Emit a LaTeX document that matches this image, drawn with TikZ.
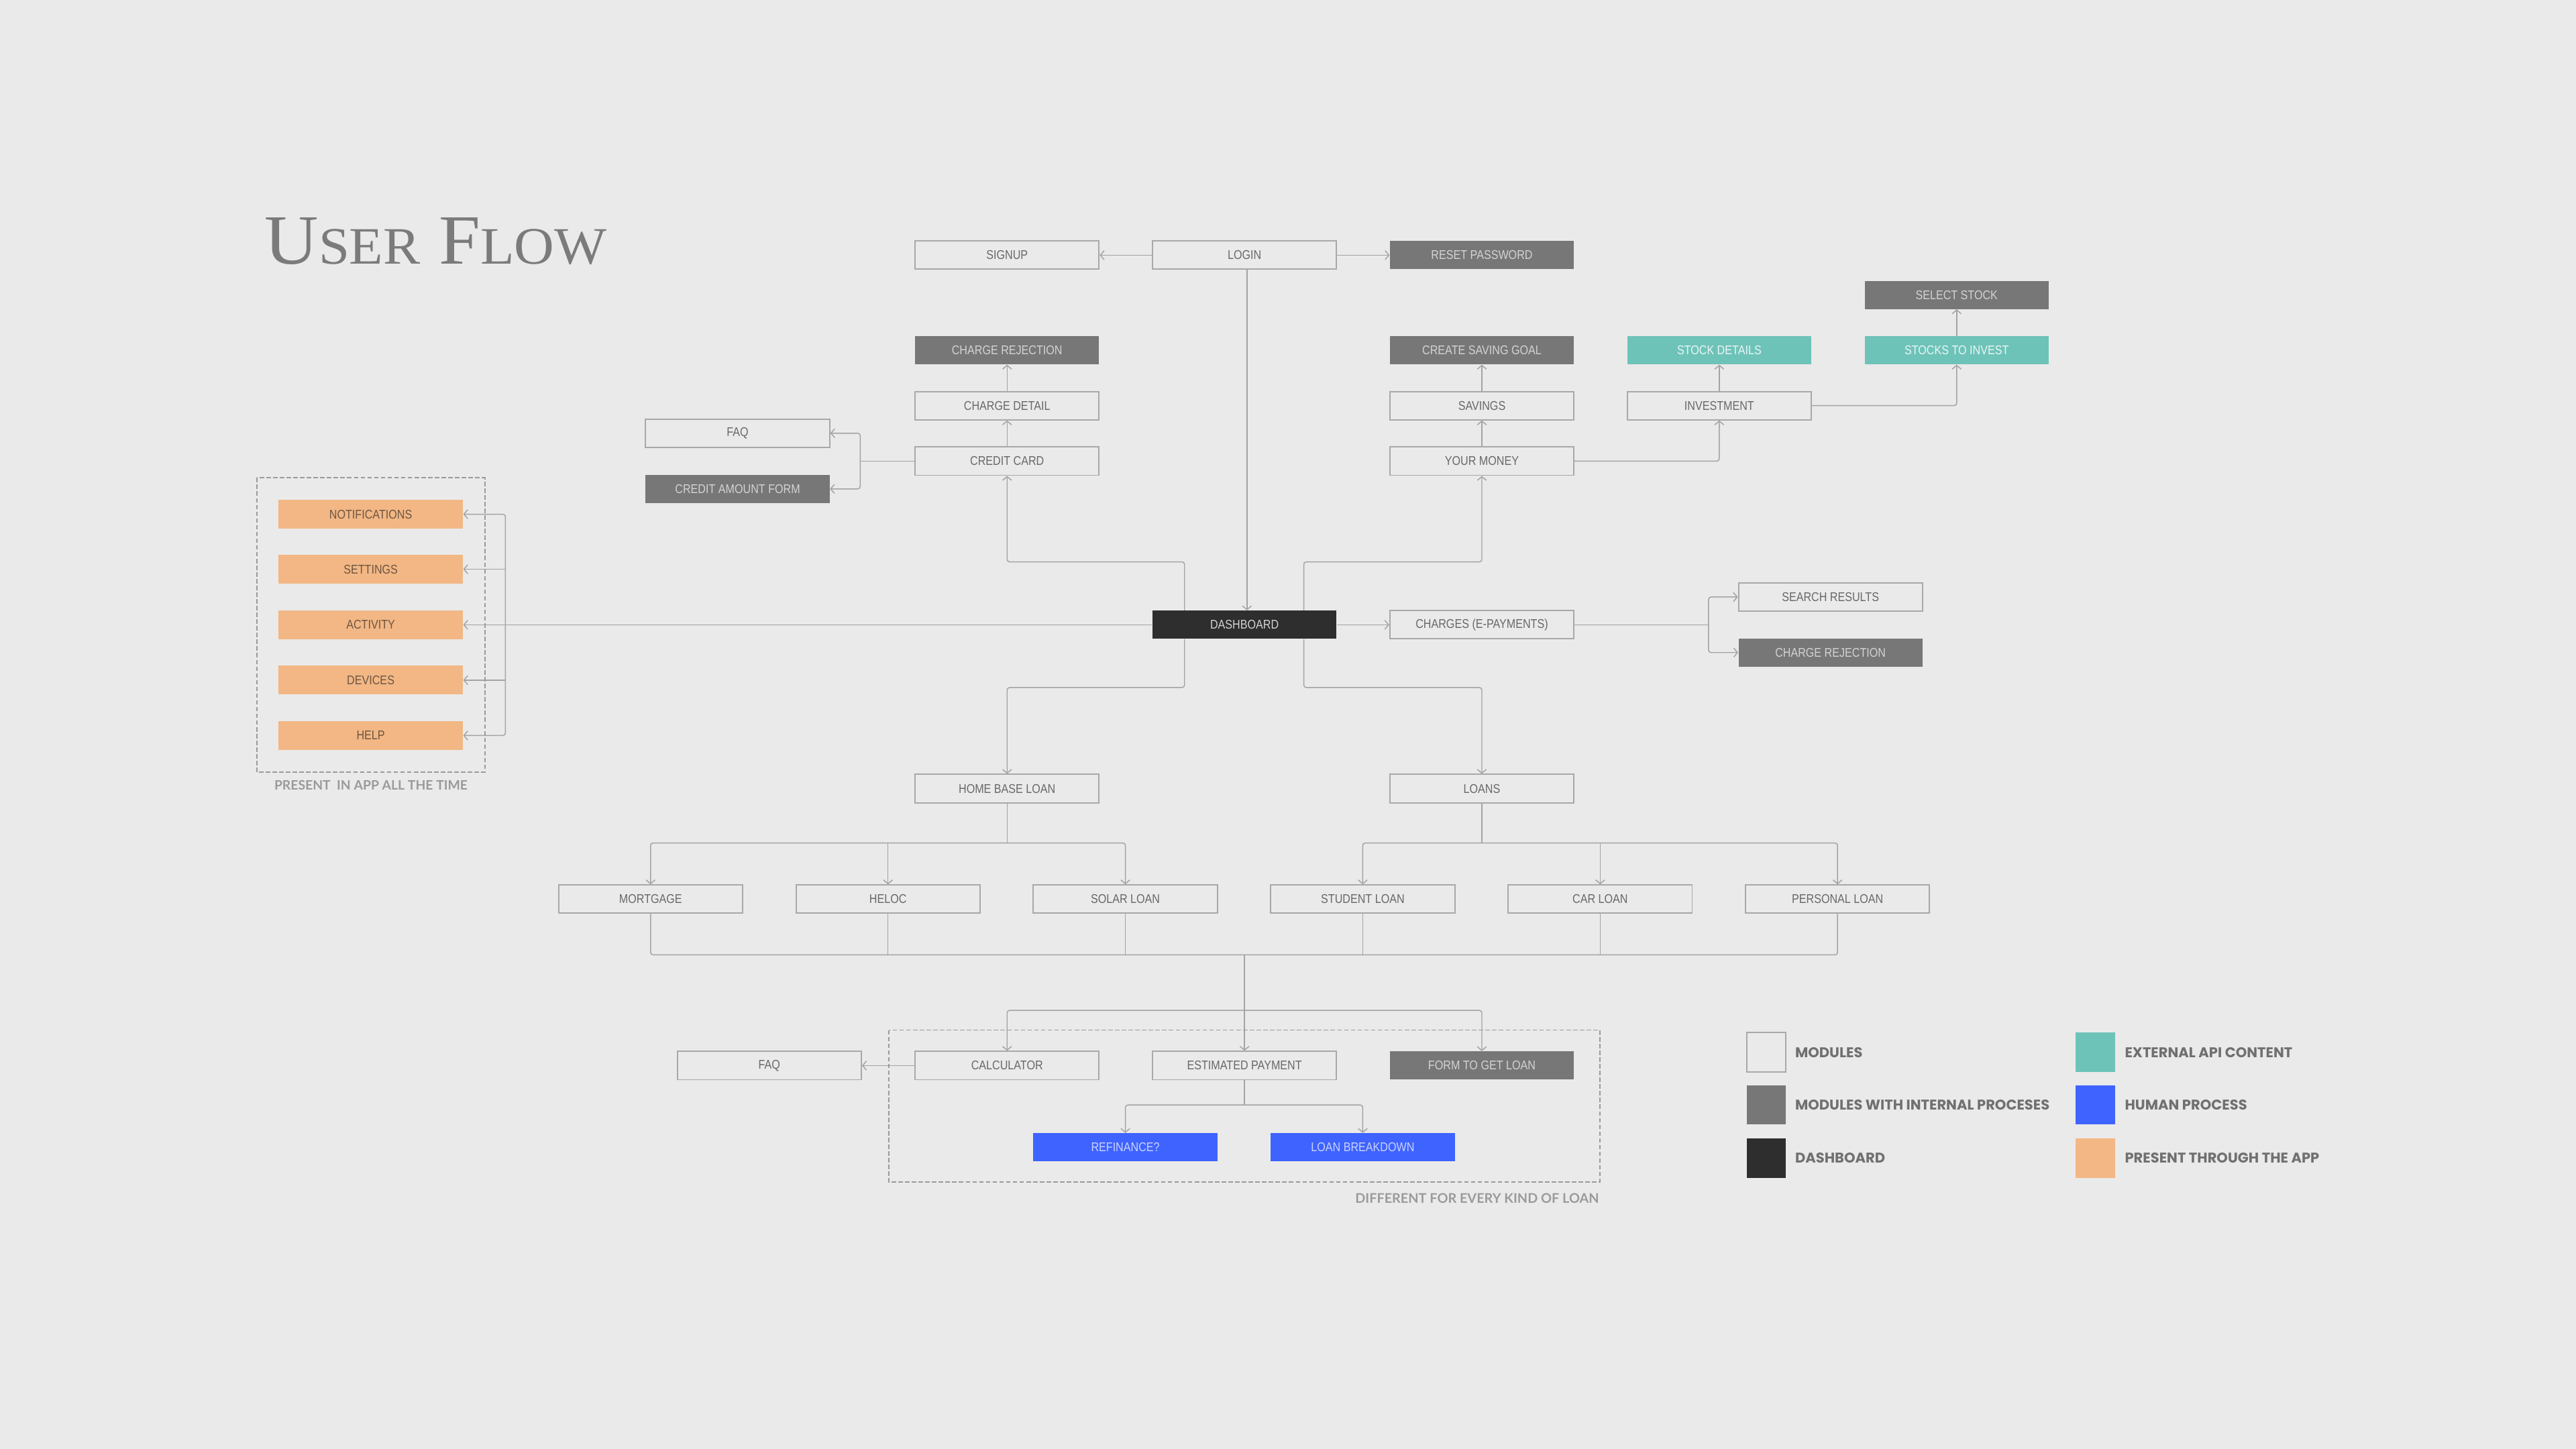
\documentclass[tikz,border=0pt]{standalone}
\usepackage{fontspec}
\setmainfont{Liberation Sans}
\newfontfamily\boxfont[FakeStretch=0.855]{Liberation Sans}
\newfontfamily\legfont{Poppins}
\newfontfamily\notefont{Lato}
\newfontfamily\titlefont{Liberation Serif}
\usetikzlibrary{arrows.meta,calc}
\definecolor{bg}{HTML}{EAEAEA}
\definecolor{lc}{HTML}{A3A3A3}
\definecolor{bc}{HTML}{A8A8A8}
\definecolor{tx}{HTML}{686868}
\definecolor{dg}{HTML}{777777}
\definecolor{dgt}{HTML}{D3D3D3}
\definecolor{dk}{HTML}{2E2E2E}
\definecolor{apiteal}{HTML}{6EC3B9}
\definecolor{apit}{HTML}{EAF6F4}
\definecolor{hblue}{HTML}{3F63FF}
\definecolor{hbluet}{HTML}{C9D3FF}
\definecolor{orng}{HTML}{F2B784}
\definecolor{orngt}{HTML}{6E5543}
\definecolor{ttl}{HTML}{7B7B7B}
\definecolor{notec}{HTML}{9A9A9A}
\definecolor{legt}{HTML}{707070}
\tikzset{
  box/.style={minimum width=112pt, minimum height=17.2pt, inner sep=0pt, font=\boxfont\fontsize{7.7}{8}\selectfont},
  mod/.style={box, draw=bc, line width=0.8pt, text=tx},
  imod/.style={box, fill=dg, text=dgt},
  dsh/.style={box, fill=dk, text=dgt},
  api/.style={box, fill=apiteal, text=apit},
  hum/.style={box, fill=hblue, text=hbluet},
  app/.style={box, fill=orng, text=orngt, minimum width=112.3pt, minimum height=17.5pt},
  conn/.style={draw=lc, line width=0.6pt, rounded corners=1.5pt},
  arr/.style={-{Straight Barb[length=2.3pt,width=5.5pt]}},
  dashbox/.style={draw=notec, line width=0.8pt, dash pattern=on 2.7pt off 1.4pt},
  notetxt/.style={inner sep=0pt, text=notec, font=\notefont\bfseries\fontsize{7.9}{9}\selectfont},
  legsq/.style={minimum width=23.8pt, minimum height=23.9pt, inner sep=0pt},
  legtxt/.style={anchor=west, inner sep=0pt, text=legt, font=\legfont\bfseries\fontsize{8.6}{9}\selectfont}
}
\begin{document}
\begin{tikzpicture}[x=1pt,y=-1pt]
\useasboundingbox (0,0) rectangle (1568,882);
\fill[bg] (0,0) rectangle (1568,882);

% title
\node[anchor=base west, inner sep=0pt, text=ttl] (title) at (161,160.6)
  {\scalebox{1.055}[1]{\titlefont\fontsize{43}{43}\selectfont U{\fontsize{32}{32}\selectfont SER} F{\fontsize{32}{32}\selectfont LOW}}};

% nodes
\node[mod]  (signup)   at (613,155.3)   {SIGNUP};
\node[mod]  (login)    at (757.5,155.3) {LOGIN};
\node[imod] (reset)    at (902,155.3)   {RESET PASSWORD};
\node[imod] (selstock) at (1191,179.5)  {SELECT STOCK};
\node[imod] (crej)     at (613,213.2)   {CHARGE REJECTION};
\node[imod] (csg)      at (902,213.2)   {CREATE SAVING GOAL};
\node[api]  (sdet)     at (1046.5,213.2){STOCK DETAILS};
\node[api]  (sti)      at (1191,213.2)  {STOCKS TO INVEST};
\node[mod]  (cdet)     at (613,246.9)   {CHARGE DETAIL};
\node[mod]  (sav)      at (902,246.9)   {SAVINGS};
\node[mod]  (inv)      at (1046.5,246.9){INVESTMENT};
\node[mod]  (faqa)     at (449,263.7)   {FAQ};
\node[mod]  (cc)       at (613,280.7)   {CREDIT CARD};
\node[mod]  (ym)       at (902,280.7)   {YOUR MONEY};
\node[imod] (caf)      at (449,297.6)   {CREDIT AMOUNT FORM};
\node[app]  (notif)    at (225.65,313)  {NOTIFICATIONS};
\node[app]  (settings) at (225.65,346.5){SETTINGS};
\node[app]  (activity) at (225.65,380.3){ACTIVITY};
\node[app]  (devices)  at (225.65,414)  {DEVICES};
\node[app]  (help)     at (225.65,447.7){HELP};
\node[mod]  (sr)       at (1114.2,363.4){SEARCH RESULTS};
\node[dsh]  (dash)     at (757.5,380.3) {DASHBOARD};
\node[mod]  (charges)  at (902,380.3)   {CHARGES (E-PAYMENTS)};
\node[imod] (crejb)    at (1114.2,397.2){CHARGE REJECTION};
\node[mod]  (hbl)      at (613,480)     {HOME BASE LOAN};
\node[mod]  (loans)    at (902,480)     {LOANS};
\node[mod]  (mort)     at (396,547.3)   {MORTGAGE};
\node[mod]  (heloc)    at (540.5,547.3) {HELOC};
\node[mod]  (solar)    at (685,547.3)   {SOLAR LOAN};
\node[mod]  (student)  at (829.5,547.3) {STUDENT LOAN};
\node[mod]  (car)      at (974,547.3)   {CAR LOAN};
\node[mod]  (personal) at (1118.5,547.3){PERSONAL LOAN};
\node[mod]  (faqb)     at (468.3,648.6) {FAQ};
\node[mod]  (calc)     at (613,648.6)   {CALCULATOR};
\node[mod]  (est)      at (757.5,648.6) {ESTIMATED PAYMENT};
\node[imod] (form)     at (902,648.6)   {FORM TO GET LOAN};
\node[hum]  (refi)     at (685,698.4)   {REFINANCE?};
\node[hum]  (lbd)      at (829.5,698.4) {LOAN BREAKDOWN};

% helper coordinates
\coordinate (lx) at (759,0);
\coordinate (dl) at (721,0);
\coordinate (dr) at (793.6,0);
\coordinate (up) at (0,342);
\coordinate (dn) at (0,418.5);
\coordinate (cj) at (523.6,0);
\coordinate (chj) at (1040,0);
\coordinate (bj) at (307.6,0);
\coordinate (b1) at (0,513.1);
\coordinate (b2) at (0,581.2);
\coordinate (b3) at (0,615);
\coordinate (b4) at (0,672.6);

% connectors top
\draw[conn,arr] (login.west) -- (signup.east);
\draw[conn,arr] (login.east) -- (reset.west);
\draw[conn,arr] (login.south -| lx) -- (dash.north -| lx);
\draw[conn,arr] (dash.north -| dl) |- (cc |- up) -- (cc.south);
\draw[conn,arr] (dash.north -| dr) |- (ym |- up) -- (ym.south);
\draw[conn,arr] (cc.north) -- (cdet.south);
\draw[conn,arr] (cdet.north) -- (crej.south);
\draw[conn,arr] (ym.north) -- (sav.south);
\draw[conn,arr] (sav.north) -- (csg.south);
\draw[conn,arr] (ym.east) -| (inv.south);
\draw[conn,arr] (inv.north) -- (sdet.south);
\draw[conn,arr] (inv.east) -| (sti.south);
\draw[conn,arr] (sti.north) -- (selstock.south);
\draw[conn] (cc.west) -- (cc.west -| cj);
\draw[conn,arr] (cc.west -| cj) |- (faqa.east);
\draw[conn,arr] (cc.west -| cj) |- (caf.east);

% side
\draw[conn,arr] (dash.west) -- (activity.east);
\draw[conn,arr] (activity.east -| bj) |- (notif.east);
\draw[conn,arr] (activity.east -| bj) |- (help.east);
\draw[conn,arr] (settings.east -| bj) -- (settings.east);
\draw[conn,arr] (devices.east -| bj) -- (devices.east);
\draw[conn,arr] (dash.east) -- (charges.west);
\draw[conn] (charges.east) -- (charges.east -| chj);
\draw[conn,arr] (charges.east -| chj) |- (sr.west);
\draw[conn,arr] (charges.east -| chj) |- (crejb.west);

% loans
\draw[conn,arr] (dash.south -| dl) |- (hbl |- dn) -- (hbl.north);
\draw[conn,arr] (dash.south -| dr) |- (loans |- dn) -- (loans.north);
\draw[conn] (hbl.south) -- (hbl.south |- b1);
\draw[conn,arr] (hbl.south |- b1) -| (mort.north);
\draw[conn,arr] (hbl.south |- b1) -| (solar.north);
\draw[conn,arr] (heloc.north |- b1) -- (heloc.north);
\draw[conn] (loans.south) -- (loans.south |- b1);
\draw[conn,arr] (loans.south |- b1) -| (student.north);
\draw[conn,arr] (loans.south |- b1) -| (personal.north);
\draw[conn,arr] (car.north |- b1) -- (car.north);
\draw[conn] (mort.south) |- (personal.south |- b2) -- (personal.south);
\draw[conn] (heloc.south) -- (heloc.south |- b2);
\draw[conn] (solar.south) -- (solar.south |- b2);
\draw[conn] (student.south) -- (student.south |- b2);
\draw[conn] (car.south) -- (car.south |- b2);
\draw[conn,arr] (est.north |- b2) -- (est.north);
\draw[conn,arr] (est.north |- b3) -| (calc.north);
\draw[conn,arr] (est.north |- b3) -| (form.north);
\draw[conn,arr] (calc.west) -- (faqb.east);
\draw[conn] (est.south) -- (est.south |- b4);
\draw[conn,arr] (est.south |- b4) -| (refi.north);
\draw[conn,arr] (est.south |- b4) -| (lbd.north);

% dashed groups
\draw[dashbox] (156.3,290.9) rectangle (295.1,470);
\draw[dashbox] (541,627) rectangle (973.7,719.6);
\node[notetxt] (lbla) at (225.8,477.8) {PRESENT\ \ IN APP ALL THE TIME};
\node[notetxt, anchor=east, font=\notefont\bfseries\fontsize{8.1}{9}\selectfont] (lblb) at (973.5,729.3) {DIFFERENT FOR EVERY KIND OF LOAN};

% legend
\node[legsq, draw=bc, line width=0.8pt] (lg1) at (1075,640.5) {};
\node[legsq, fill=dg] (lg2) at (1075,672.6) {};
\node[legsq, fill=dk] (lg3) at (1075,704.9) {};
\node[legsq, fill=apiteal] (lg4) at (1275.4,640.5) {};
\node[legsq, fill=hblue] (lg5) at (1275.4,672.6) {};
\node[legsq, fill=orng] (lg6) at (1275.4,704.9) {};
\node[legtxt] (lt1) at (1092.5,640.5) {MODULES};
\node[legtxt] (lt2) at (1092.5,672.6) {MODULES WITH INTERNAL PROCESES};
\node[legtxt] (lt3) at (1092.5,704.9) {DASHBOARD};
\node[legtxt] (lt4) at (1293.2,640.5) {EXTERNAL API CONTENT};
\node[legtxt] (lt5) at (1293.2,672.6) {HUMAN PROCESS};
\node[legtxt] (lt6) at (1293.2,704.9) {PRESENT THROUGH THE APP};
\end{tikzpicture}
\end{document}
